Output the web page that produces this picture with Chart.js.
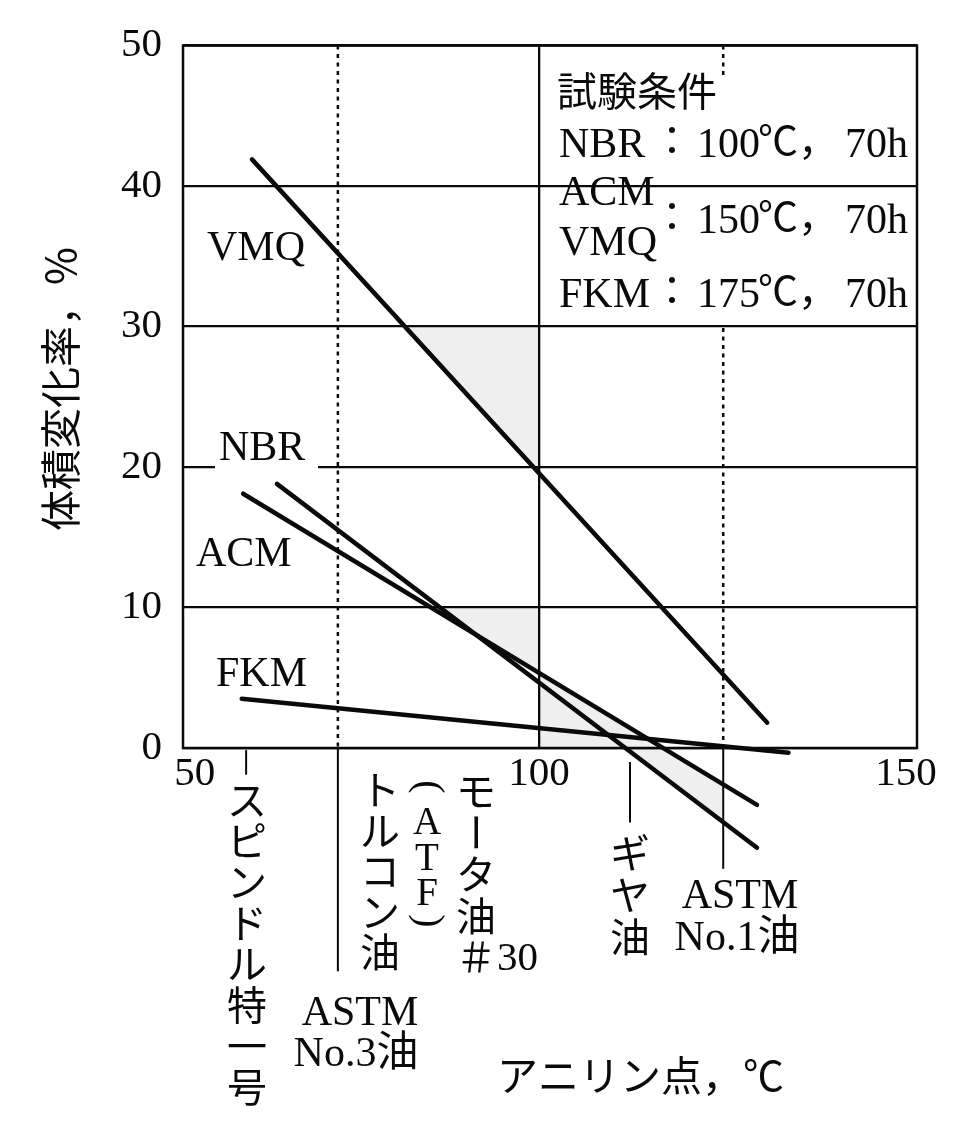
<!DOCTYPE html>
<html><head><meta charset="utf-8">
<script src="https://cdn.jsdelivr.net/npm/chart.js@4.4.1/dist/chart.umd.min.js"></script>
<style>html,body{margin:0;padding:0;background:#fff;}canvas{display:block;}</style>
</head><body>
<canvas id="c" width="969" height="1144"></canvas>
<script>
// ---- data ----
const vmqX = [60.9, 131.1], vmqY = [41.9, 1.8];
const nbrX = [64.3, 129.7], nbrY = [18.8, -7.1];
const acmX = [59.7, 129.7], acmY = [18.1, -4.05];
const fkmX = [59.5, 134.0], fkmY = [3.5, -0.33];
const yTicks = [0, 10, 20, 30, 40, 50];
const xTickValues = [53.1, 100, 150];
const xTickLabels = ['50', '100', '150'];
// aniline points of the oils
const spindleX = 60.1, astm3X = 72.6, gearX = 112.4, astm1X = 125.1;
// shaded areas (x,y pairs)
const shadeA = [[81.7,30],[100,30],[100,19.57]];
const shadeB = [[86.5,10],[100,10],[100,5.35],[91.3,8.1]];
const shadeC = [[100,5.35],[125.1,-2.59],[125.1,-5.28],[111.8,0],[100,0]];
const yTitle = '体積変化率，%';
const xTitle = 'アニリン点，℃';
const condTitle = '試験条件';

const BLACK = '#0a0a0a';
const SERIF = '"Liberation Serif", "DejaVu Serif", serif';
const JP = '"Noto Sans CJK JP", sans-serif';
const MIX = '"Liberation Serif", "Noto Sans CJK JP", serif';

const pts = (xs, ys) => xs.map((x, i) => ({x, y: ys[i]}));
const lineDs = (label, xs, ys) => ({label, data: pts(xs, ys), showLine: true, borderColor: BLACK,
  borderWidth: 4.5, pointRadius: 0, pointHoverRadius: 0, clip: false, borderCapStyle: 'round', fill: false});

function tokens(s){ return Array.from(s.matchAll(/[0-9]+|./gu), m => m[0]); }

function vColumn(ctx, text, cx, centers, jpSize){
  const toks = tokens(text);
  let row = -1;
  toks.forEach((t) => {
    const isDigits = /^[0-9]+$/.test(t);
    if (!isDigits || row < 0) row++;
    const cy = centers[row];
    ctx.save();
    ctx.textBaseline = 'middle';
    if (isDigits) {
      ctx.font = `41px ${SERIF}`; ctx.textAlign = 'left';
      ctx.fillText(t, cx + 21, cy + 2);
    } else if ('ー（）()'.includes(t)) {
      ctx.translate(cx, cy); ctx.rotate(Math.PI / 2);
      ctx.font = (t === 'ー') ? `${jpSize}px ${JP}` : `40px ${SERIF}`;
      ctx.textAlign = 'center';
      ctx.fillText(t, 0, 0);
    } else if (/[A-Za-z]/.test(t)) {
      ctx.font = `39px ${SERIF}`; ctx.textAlign = 'center';
      ctx.fillText(t, cx, cy + 2);
    } else {
      ctx.font = `${jpSize}px ${JP}`; ctx.textAlign = 'center';
      ctx.fillText(t, cx, cy);
    }
    ctx.restore();
  });
}
function seq(first, step, n){ const a = []; for (let i = 0; i < n; i++) a.push(first + i * step); return a; }

const decor = {
  id: 'decor',
  beforeDraw(chart){
    const {ctx, scales: {x, y}} = chart;
    ctx.save();
    ctx.fillStyle = '#efefef';
    [shadeA, shadeB, shadeC].forEach(poly => {
      ctx.beginPath();
      poly.forEach(([vx, vy], i) => {
        const px = x.getPixelForValue(vx), py = y.getPixelForValue(vy);
        i ? ctx.lineTo(px, py) : ctx.moveTo(px, py);
      });
      ctx.closePath(); ctx.fill();
    });
    ctx.restore();
  },
  afterDatasetsDraw(chart){
    const {ctx, chartArea: a, scales: {x, y}} = chart;
    ctx.save();
    ctx.strokeStyle = BLACK; ctx.fillStyle = BLACK;
    // frame
    ctx.lineWidth = 2.5;
    ctx.strokeRect(a.left, a.top, a.right - a.left, a.bottom - a.top);
    // dotted reference lines
    const vseg = (vx, y1, y2, dash, w) => {
      const px = x.getPixelForValue(vx);
      ctx.beginPath(); ctx.setLineDash(dash); ctx.lineWidth = w;
      ctx.moveTo(px, y.getPixelForValue(y1)); ctx.lineTo(px, y.getPixelForValue(y2)); ctx.stroke();
    };
    vseg(astm3X, 50, 0, [4, 4.5], 2.5);
    vseg(astm1X, 50, 47.6, [4, 4.5], 2.5);
    vseg(astm1X, 29.9, 0, [4, 4.5], 2.5);
    // solid ticks below axis
    vseg(spindleX, -0.15, -1.9, [], 2);
    vseg(astm3X, 0, -15.9, [], 2);
    vseg(gearX, -1.0, -5.3, [], 2);
    vseg(astm1X, 0, -8.6, [], 2);
    ctx.setLineDash([]);

    // series labels
    ctx.fillStyle = '#fff';
    ctx.fillRect(215, 454, 103, 16);
    ctx.fillStyle = BLACK;
    ctx.textBaseline = 'alphabetic'; ctx.textAlign = 'left';
    ctx.font = `42px ${SERIF}`;
    ctx.fillText('VMQ', 207, 260);
    ctx.fillText('NBR', 219, 460);
    ctx.fillText('ACM', 196, 566);
    ctx.fillText('FKM', 216, 686);

    // test conditions block
    ctx.font = `40px ${JP}`; ctx.textBaseline = 'middle';
    ctx.fillText(condTitle, 557, 91);
    ctx.textBaseline = 'alphabetic';
    const condRow = (name, nameY, rowY, temp) => {
      ctx.font = `42px ${SERIF}`; ctx.textAlign = 'left';
      if (name) ctx.fillText(name, 559, nameY);
      if (temp) {
        ctx.font = `40px ${JP}`; ctx.textAlign = 'center';
        ctx.fillText('：', 672, rowY - 2);
        ctx.font = `42px ${SERIF}`; ctx.textAlign = 'left';
        ctx.fillText(temp, 697, rowY);
        ctx.font = `40px ${JP}`;
        ctx.fillText('℃，', 758, rowY - 2);
        ctx.font = `42px ${SERIF}`;
        ctx.fillText('70h', 845, rowY);
      }
    };
    condRow('NBR', 157, 157, '100');
    condRow('ACM', 205, 0, null);
    condRow('VMQ', 255, 0, null);
    condRow(null, 0, 233, '150');
    condRow('FKM', 307, 307, '175');

    // oil labels below axis
    ctx.fillStyle = BLACK;
    vColumn(ctx, 'スピンドル特一号', 247, seq(800, 41, 8), 40);
    vColumn(ctx, 'トルコン油', 380, seq(790, 40.5, 5), 40);
    vColumn(ctx, '(ATF)', 427, [787, 822, 858, 893, 921], 40);
    vColumn(ctx, 'モータ油＃30', 476, seq(791, 41.5, 5), 40);
    vColumn(ctx, 'ギヤ油', 630, seq(853, 42, 3), 40);
    ctx.textAlign = 'center'; ctx.textBaseline = 'alphabetic';
    ctx.font = `42px ${MIX}`;
    ctx.fillText('ASTM', 740, 908);
    ctx.fillText('No.1油', 737, 950);
    ctx.fillText('ASTM', 360, 1025);
    ctx.fillText('No.3油', 356, 1066);

    // axis titles
    ctx.font = `41px ${JP}`; ctx.textAlign = 'left'; ctx.textBaseline = 'middle';
    ctx.fillText(xTitle, 497, 1075);
    ctx.save();
    ctx.translate(60, 389); ctx.rotate(-Math.PI / 2);
    ctx.textAlign = 'center';
    ctx.fillText(yTitle, 0, 0);
    ctx.restore();
    ctx.restore();
  }
};

new Chart(document.getElementById('c'), {
  type: 'scatter',
  data: { datasets: [lineDs('VMQ', vmqX, vmqY), lineDs('NBR', nbrX, nbrY), lineDs('ACM', acmX, acmY), lineDs('FKM', fkmX, fkmY)] },
  options: {
    responsive: false, animation: false, devicePixelRatio: 1,
    layout: { padding: { top: 36, right: 52, left: 0, bottom: 0 } },
    plugins: { legend: { display: false }, tooltip: { enabled: false } },
    scales: {
      x: { type: 'linear', min: 51.5, max: 151.5,
        afterBuildTicks: s => { s.ticks = xTickValues.map(v => ({value: v})); },
        afterFit: s => { s.height = 396; },
        ticks: { callback: (v, i) => xTickLabels[i], font: { family: SERIF, size: 41 }, color: BLACK, padding: 2, maxRotation: 0, autoSkip: false },
        grid: { color: c => (c.tick && c.tick.value === 100) ? BLACK : 'rgba(0,0,0,0)', lineWidth: 2.3, drawTicks: false },
        border: { display: false } },
      y: { min: 0, max: 50,
        afterBuildTicks: s => { s.ticks = yTicks.map(v => ({value: v})); },
        afterFit: s => { s.width = 183; },
        ticks: { font: { family: SERIF, size: 41 }, color: BLACK, padding: 21 },
        grid: { color: BLACK, lineWidth: 2.3, drawTicks: false },
        border: { display: false } }
    }
  },
  plugins: [decor]
});
</script>
</body></html>
